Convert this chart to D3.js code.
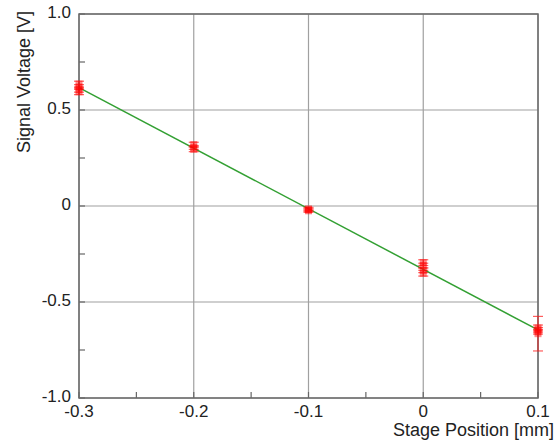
<!DOCTYPE html>
<html lang="en">
<head>
<meta charset="UTF-8">
<title>Signal Voltage vs Stage Position</title>
<style>
  body { margin: 0; background: #fff; }
  svg { display: block; }
  text { font-family: "Liberation Sans", Arial, sans-serif; fill: #222; }
</style>
</head>
<body>
<svg></svg>
<script src="https://d3js.org/d3.v7.min.js"></script>
<script>
  // measured points (stage position [mm], voltage [V], error [V])
  const positions = [-0.3, -0.3, -0.3, -0.3, -0.2, -0.2, -0.2, -0.1, -0.1, -0.1, 0, 0, 0, 0, 0.1, 0.1, 0.1, 0.1];
  const voltages  = [0.635, 0.62, 0.605, 0.595, 0.32, 0.305, 0.295, -0.015, -0.02, -0.025, -0.295, -0.31, -0.335, -0.35, -0.635, -0.645, -0.655, -0.665];
  const errors    = [0.015, 0.012, 0.012, 0.015, 0.012, 0.01, 0.012, 0.008, 0.008, 0.008, 0.015, 0.012, 0.012, 0.015, 0.015, 0.012, 0.012, 0.09];
  const xTicks = [-0.3, -0.2, -0.1, 0, 0.1];
  const yTicks = [-1.0, -0.5, 0, 0.5, 1.0];
  const xTickLabels = ["-0.3", "-0.2", "-0.1", "0", "0.1"];
  const yTickLabels = ["-1.0", "-0.5", "0", "0.5", "1.0"];

  const width = 557, height = 445;
  const margin = { top: 14, right: 19, bottom: 47, left: 79 };
  const innerW = width - margin.left - margin.right;
  const innerH = height - margin.top - margin.bottom;

  const svg = d3.select("svg").attr("width", width).attr("height", height);
  const g = svg.append("g").attr("transform", `translate(${margin.left},${margin.top})`);

  const x = d3.scaleLinear().domain([-0.3, 0.1]).range([0, innerW]);
  const y = d3.scaleLinear().domain([-1, 1]).range([innerH, 0]);

  // grid
  g.append("g").selectAll("line").data(xTicks).join("line")
    .attr("x1", d => x(d)).attr("x2", d => x(d))
    .attr("y1", 0).attr("y2", innerH)
    .attr("stroke", "#a0a0a0").attr("stroke-width", 1.2);
  g.append("g").selectAll("line").data(yTicks).join("line")
    .attr("y1", d => y(d)).attr("y2", d => y(d))
    .attr("x1", 0).attr("x2", innerW)
    .attr("stroke", "#a0a0a0").attr("stroke-width", 1.2);

  // inward ticks (major + minor)
  const xMinor = d3.range(-0.3, 0.1001, 0.05);
  const yMinor = d3.range(-1, 1.001, 0.25);
  g.append("g").selectAll("line").data(xMinor).join("line")
    .attr("x1", d => x(d)).attr("x2", d => x(d))
    .attr("y1", innerH).attr("y2", innerH - 6)
    .attr("stroke", "#666").attr("stroke-width", 1.2);
  g.append("g").selectAll("line").data(yMinor).join("line")
    .attr("y1", d => y(d)).attr("y2", d => y(d))
    .attr("x1", 0).attr("x2", 6)
    .attr("stroke", "#666").attr("stroke-width", 1.2);

  // frame
  g.append("rect").attr("width", innerW).attr("height", innerH)
    .attr("fill", "none").attr("stroke", "#6a6a6a").attr("stroke-width", 1.5);

  // tick labels
  g.append("g").selectAll("text").data(xTicks).join("text")
    .attr("x", d => x(d)).attr("y", innerH + 19)
    .attr("text-anchor", "middle").style("font-size", "17px")
    .text((d, i) => xTickLabels[i]);
  g.append("g").selectAll("text").data(yTicks).join("text")
    .attr("x", -8).attr("y", d => y(d) - 2).attr("dy", "0.35em")
    .attr("text-anchor", "end").style("font-size", "17px")
    .text((d, i) => yTickLabels[i]);

  // axis titles
  svg.append("text")
    .attr("x", 554).attr("y", 436)
    .attr("text-anchor", "end").style("font-size", "18px")
    .text("Stage Position [mm]");
  svg.append("text")
    .attr("transform", "translate(30,11) rotate(-90)")
    .attr("text-anchor", "end").style("font-size", "18px")
    .text("Signal Voltage [V]");

  // least-squares fit line
  const n = positions.length;
  const mx = d3.mean(positions), my = d3.mean(voltages);
  let sxy = 0, sxx = 0;
  for (let i = 0; i < n; i++) {
    sxy += (positions[i] - mx) * (voltages[i] - my);
    sxx += (positions[i] - mx) ** 2;
  }
  const slope = sxy / sxx, icpt = my - slope * mx;
  g.append("line")
    .attr("x1", x(-0.3)).attr("y1", y(icpt + slope * -0.3))
    .attr("x2", x(0.1)).attr("y2", y(icpt + slope * 0.1))
    .attr("stroke", "#33a033").attr("stroke-width", 1.5);

  // error bars and markers
  const pts = positions.map((p, i) => ({ p, v: voltages[i], e: errors[i] }));
  const eb = g.append("g").attr("stroke", "#ff1a1a").attr("stroke-width", 1.2).attr("opacity", 0.7);
  eb.selectAll(".v").data(pts).join("line")
    .attr("x1", d => x(d.p)).attr("x2", d => x(d.p))
    .attr("y1", d => y(d.v - d.e)).attr("y2", d => y(d.v + d.e));
  eb.selectAll(".c1").data(pts).join("line")
    .attr("x1", d => x(d.p) - 5).attr("x2", d => x(d.p) + 5)
    .attr("y1", d => y(d.v - d.e)).attr("y2", d => y(d.v - d.e));
  eb.selectAll(".c2").data(pts).join("line")
    .attr("x1", d => x(d.p) - 5).attr("x2", d => x(d.p) + 5)
    .attr("y1", d => y(d.v + d.e)).attr("y2", d => y(d.v + d.e));

  g.append("g").selectAll("rect").data(pts).join("rect")
    .attr("x", d => x(d.p) - 3.5).attr("y", d => y(d.v) - 3.5)
    .attr("width", 7).attr("height", 7)
    .attr("fill", "#ff0000").attr("fill-opacity", 0.45);
</script>
</body>
</html>
